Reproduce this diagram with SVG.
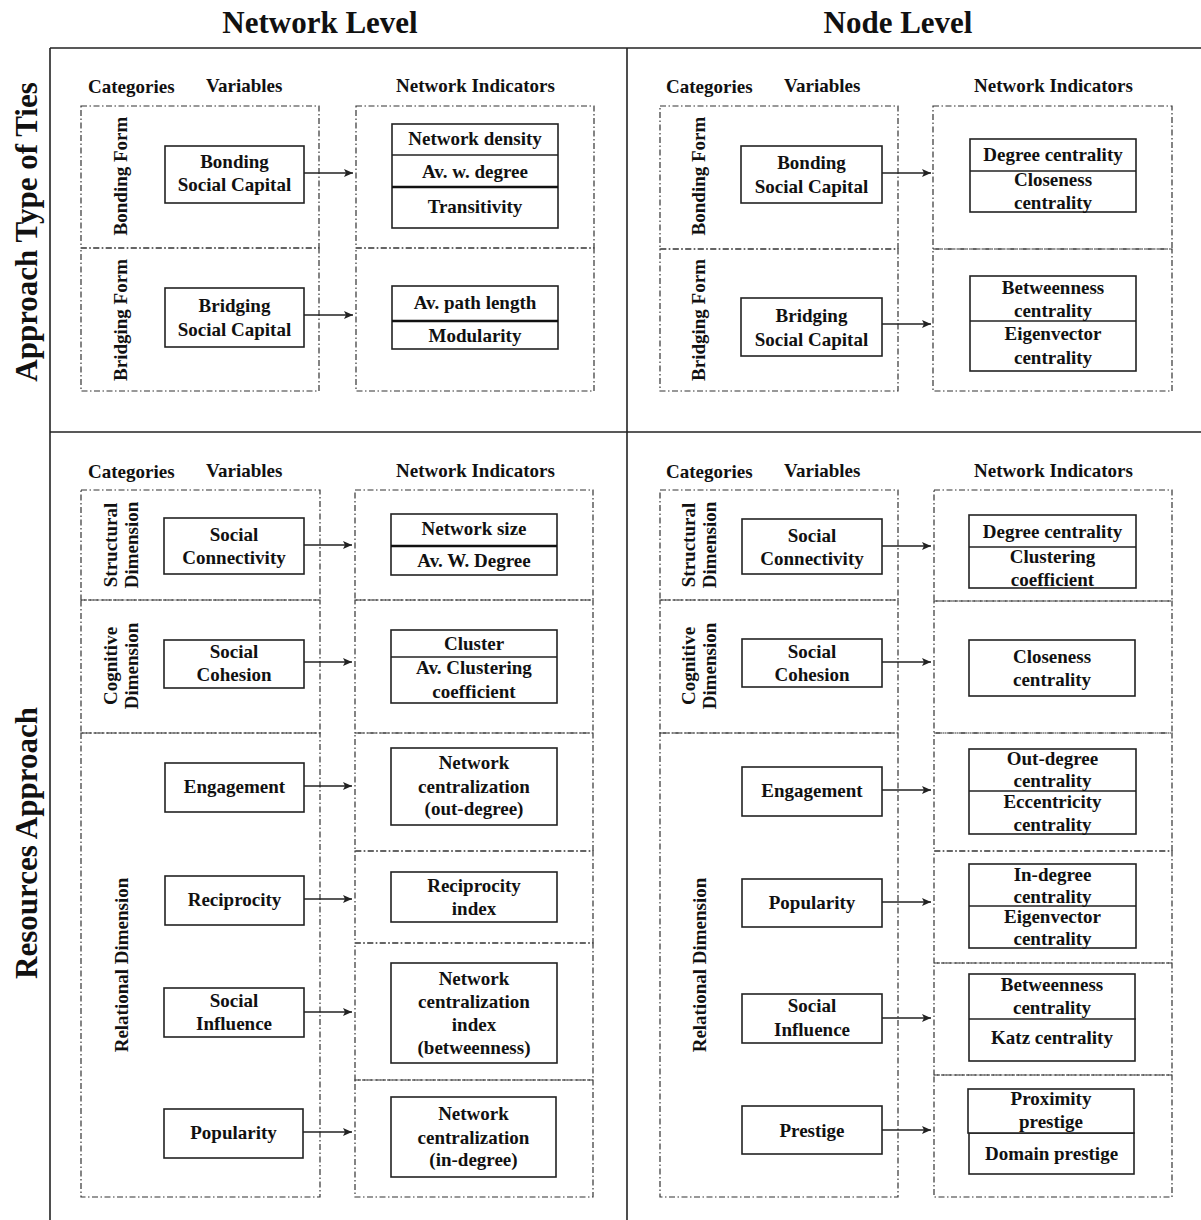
<svg xmlns="http://www.w3.org/2000/svg" width="1201" height="1220" viewBox="0 0 1201 1220">
  <style>
    text { font-family: "Liberation Serif", "Times New Roman", serif; font-weight: bold; fill: #111; }
    .title { font-size: 31px; text-anchor: middle; }
    .hdr { font-size: 19px; }
    .t { font-size: 19px; text-anchor: middle; }
    .frame { stroke: #222; stroke-width: 1.6; fill: none; }
    .dash { stroke: #333; stroke-width: 1.2; fill: none; stroke-dasharray: 6 2.5 1.5 2.5; }
    .box { stroke: #222; stroke-width: 1.6; fill: #fff; }
    .div { stroke: #222; stroke-width: 1.4; }
    .thick { stroke: #111; stroke-width: 2.6; }
    .conn { stroke: #222; stroke-width: 1.3; fill: none; marker-end: url(#arr); }
  </style>
  <defs>
    <marker id="arr" markerUnits="userSpaceOnUse" markerWidth="10" markerHeight="10" refX="9" refY="5" orient="auto">
      <path d="M0,1 L9,5 L0,9 L2,5 Z" fill="#222"/>
    </marker>
  </defs>
  <rect width="1201" height="1220" fill="#fff"/>

  <!-- column and row titles -->
  <text class="title" x="320" y="33">Network Level</text>
  <text class="title" x="898" y="33">Node Level</text>
  <text class="title" transform="translate(37,232) rotate(-90)">Approach Type of Ties</text>
  <text class="title" transform="translate(37,843) rotate(-90)">Resources Approach</text>

  <!-- outer frame -->
  <g id="frame">
    <line class="frame" x1="50" y1="48" x2="1201" y2="48"/>
    <line class="frame" x1="50" y1="48" x2="50" y2="1220"/>
    <line class="frame" x1="627" y1="48" x2="627" y2="1220"/>
    <line class="frame" x1="50" y1="432" x2="1201" y2="432"/>
  </g>

  <!-- column headers -->
  <g id="headers">
    <text class="hdr" x="88" y="93">Categories</text>
    <text class="hdr" x="206" y="92">Variables</text>
    <text class="hdr" x="396" y="92">Network Indicators</text>
    <text class="hdr" x="666" y="93">Categories</text>
    <text class="hdr" x="784" y="92">Variables</text>
    <text class="hdr" x="974" y="92">Network Indicators</text>
    <text class="hdr" x="88" y="478">Categories</text>
    <text class="hdr" x="206" y="477">Variables</text>
    <text class="hdr" x="396" y="477">Network Indicators</text>
    <text class="hdr" x="666" y="478">Categories</text>
    <text class="hdr" x="784" y="477">Variables</text>
    <text class="hdr" x="974" y="477">Network Indicators</text>
  </g>

  <!-- dashed category / indicator panels -->
  <g id="panels">
    <rect class="dash" x="81" y="106" width="238" height="142"/>
    <rect class="dash" x="81" y="248" width="238" height="143"/>
    <rect class="dash" x="356" y="106" width="238" height="142"/>
    <rect class="dash" x="356" y="248" width="238" height="143"/>

    <rect class="dash" x="660" y="106" width="238" height="143"/>
    <rect class="dash" x="660" y="249" width="238" height="142"/>
    <rect class="dash" x="933" y="106" width="239" height="143"/>
    <rect class="dash" x="933" y="249" width="239" height="142"/>

    <rect class="dash" x="81" y="490" width="239" height="110"/>
    <rect class="dash" x="81" y="600" width="239" height="133"/>
    <rect class="dash" x="81" y="733" width="239" height="464"/>
    <rect class="dash" x="355" y="490" width="238" height="110"/>
    <rect class="dash" x="355" y="600" width="238" height="133"/>
    <rect class="dash" x="355" y="733" width="238" height="118"/>
    <rect class="dash" x="355" y="851" width="238" height="92"/>
    <rect class="dash" x="355" y="943" width="238" height="137"/>
    <rect class="dash" x="355" y="1080" width="238" height="117"/>

    <rect class="dash" x="660" y="490" width="238" height="110"/>
    <rect class="dash" x="660" y="600" width="238" height="133"/>
    <rect class="dash" x="660" y="733" width="238" height="464"/>
    <rect class="dash" x="934" y="490" width="238" height="111"/>
    <rect class="dash" x="934" y="601" width="238" height="132"/>
    <rect class="dash" x="934" y="733" width="238" height="118"/>
    <rect class="dash" x="934" y="851" width="238" height="112"/>
    <rect class="dash" x="934" y="963" width="238" height="112"/>
    <rect class="dash" x="934" y="1075" width="238" height="122"/>
  </g>

  <!-- category labels -->
  <g id="categories">
    <text class="t" transform="translate(127,176) rotate(-90)">Bonding Form</text>
    <text class="t" transform="translate(127,320) rotate(-90)">Bridging Form</text>
    <text class="t" transform="translate(705,176) rotate(-90)">Bonding Form</text>
    <text class="t" transform="translate(705,320) rotate(-90)">Bridging Form</text>

    <text class="t" transform="translate(117,545) rotate(-90)">Structural</text>
    <text class="t" transform="translate(138,545) rotate(-90)">Dimension</text>
    <text class="t" transform="translate(117,666) rotate(-90)">Cognitive</text>
    <text class="t" transform="translate(138,666) rotate(-90)">Dimension</text>
    <text class="t" transform="translate(128,965) rotate(-90)">Relational Dimension</text>

    <text class="t" transform="translate(695,545) rotate(-90)">Structural</text>
    <text class="t" transform="translate(716,545) rotate(-90)">Dimension</text>
    <text class="t" transform="translate(695,666) rotate(-90)">Cognitive</text>
    <text class="t" transform="translate(716,666) rotate(-90)">Dimension</text>
    <text class="t" transform="translate(706,965) rotate(-90)">Relational Dimension</text>
  </g>

  <!-- connectors -->
  <g id="connectors">
    <line class="conn" x1="304" y1="173" x2="353" y2="173"/>
    <line class="conn" x1="304" y1="315" x2="353" y2="315"/>
    <line class="conn" x1="882" y1="173" x2="931" y2="173"/>
    <line class="conn" x1="882" y1="324" x2="931" y2="324"/>

    <line class="conn" x1="304" y1="545" x2="352" y2="545"/>
    <line class="conn" x1="304" y1="662" x2="352" y2="662"/>
    <line class="conn" x1="304" y1="786" x2="352" y2="786"/>
    <line class="conn" x1="304" y1="899" x2="352" y2="899"/>
    <line class="conn" x1="304" y1="1012" x2="352" y2="1012"/>
    <line class="conn" x1="303" y1="1132" x2="352" y2="1132"/>

    <line class="conn" x1="882" y1="546" x2="931" y2="546"/>
    <line class="conn" x1="882" y1="662" x2="931" y2="662"/>
    <line class="conn" x1="882" y1="790" x2="931" y2="790"/>
    <line class="conn" x1="882" y1="902" x2="931" y2="902"/>
    <line class="conn" x1="882" y1="1018" x2="931" y2="1018"/>
    <line class="conn" x1="882" y1="1130" x2="931" y2="1130"/>
  </g>

  <!-- Network level, type of ties -->
  <g id="nl-bonding">
    <rect class="box" x="165" y="146" width="139" height="57"/>
    <text class="t" x="234.5" y="168">Bonding</text>
    <text class="t" x="234.5" y="191">Social Capital</text>
  </g>
  <g id="nl-bonding-ind">
    <rect class="box" x="392" y="124" width="166" height="104"/>
    <line class="div" x1="392" y1="155" x2="558" y2="155"/>
    <line class="thick" x1="392" y1="187" x2="558" y2="187"/>
    <text class="t" x="475" y="145">Network density</text>
    <text class="t" x="475" y="178">Av. w. degree</text>
    <text class="t" x="475" y="213">Transitivity</text>
  </g>
  <g id="nl-bridging">
    <rect class="box" x="165" y="288" width="139" height="59"/>
    <text class="t" x="234.5" y="312">Bridging</text>
    <text class="t" x="234.5" y="336">Social Capital</text>
  </g>
  <g id="nl-bridging-ind">
    <rect class="box" x="392" y="286" width="166" height="63"/>
    <line class="thick" x1="392" y1="321" x2="558" y2="321"/>
    <text class="t" x="475" y="309">Av. path length</text>
    <text class="t" x="475" y="342">Modularity</text>
  </g>

  <!-- Node level, type of ties -->
  <g id="nd-bonding">
    <rect class="box" x="741" y="146" width="141" height="57"/>
    <text class="t" x="811.5" y="169">Bonding</text>
    <text class="t" x="811.5" y="193">Social Capital</text>
  </g>
  <g id="nd-bonding-ind">
    <rect class="box" x="970" y="139" width="166" height="73"/>
    <line class="div" x1="970" y1="171" x2="1136" y2="171"/>
    <text class="t" x="1053" y="161">Degree centrality</text>
    <text class="t" x="1053" y="186">Closeness</text>
    <text class="t" x="1053" y="209">centrality</text>
  </g>
  <g id="nd-bridging">
    <rect class="box" x="741" y="298" width="141" height="58"/>
    <text class="t" x="811.5" y="322">Bridging</text>
    <text class="t" x="811.5" y="346">Social Capital</text>
  </g>
  <g id="nd-bridging-ind">
    <rect class="box" x="970" y="276" width="166" height="95"/>
    <line class="div" x1="970" y1="321" x2="1136" y2="321"/>
    <text class="t" x="1053" y="294">Betweenness</text>
    <text class="t" x="1053" y="317">centrality</text>
    <text class="t" x="1053" y="340">Eigenvector</text>
    <text class="t" x="1053" y="364">centrality</text>
  </g>

  <!-- Network level, resources -->
  <g id="nl-connectivity">
    <rect class="box" x="164" y="518" width="140" height="56"/>
    <text class="t" x="234" y="541">Social</text>
    <text class="t" x="234" y="564">Connectivity</text>
  </g>
  <g id="nl-connectivity-ind">
    <rect class="box" x="391" y="514" width="166" height="61"/>
    <line class="thick" x1="391" y1="546" x2="557" y2="546"/>
    <text class="t" x="474" y="535">Network size</text>
    <text class="t" x="474" y="567">Av. W. Degree</text>
  </g>
  <g id="nl-cohesion">
    <rect class="box" x="164" y="640" width="140" height="48"/>
    <text class="t" x="234" y="658">Social</text>
    <text class="t" x="234" y="681">Cohesion</text>
  </g>
  <g id="nl-cohesion-ind">
    <rect class="box" x="391" y="630" width="166" height="73"/>
    <line class="div" x1="391" y1="657" x2="557" y2="657"/>
    <text class="t" x="474" y="650">Cluster</text>
    <text class="t" x="474" y="674">Av. Clustering</text>
    <text class="t" x="474" y="698">coefficient</text>
  </g>
  <g id="nl-engagement">
    <rect class="box" x="165" y="763" width="139" height="49"/>
    <text class="t" x="234.5" y="793">Engagement</text>
  </g>
  <g id="nl-engagement-ind">
    <rect class="box" x="391" y="748" width="166" height="77"/>
    <text class="t" x="474" y="769">Network</text>
    <text class="t" x="474" y="793">centralization</text>
    <text class="t" x="474" y="815">(out-degree)</text>
  </g>
  <g id="nl-reciprocity">
    <rect class="box" x="165" y="876" width="139" height="49"/>
    <text class="t" x="234.5" y="906">Reciprocity</text>
  </g>
  <g id="nl-reciprocity-ind">
    <rect class="box" x="391" y="872" width="166" height="50"/>
    <text class="t" x="474" y="892">Reciprocity</text>
    <text class="t" x="474" y="915">index</text>
  </g>
  <g id="nl-influence">
    <rect class="box" x="164" y="988" width="140" height="49"/>
    <text class="t" x="234" y="1007">Social</text>
    <text class="t" x="234" y="1030">Influence</text>
  </g>
  <g id="nl-influence-ind">
    <rect class="box" x="391" y="963" width="166" height="100"/>
    <text class="t" x="474" y="985">Network</text>
    <text class="t" x="474" y="1008">centralization</text>
    <text class="t" x="474" y="1031">index</text>
    <text class="t" x="474" y="1054">(betweenness)</text>
  </g>
  <g id="nl-popularity">
    <rect class="box" x="164" y="1109" width="139" height="49"/>
    <text class="t" x="233.5" y="1139">Popularity</text>
  </g>
  <g id="nl-popularity-ind">
    <rect class="box" x="391" y="1097" width="165" height="80"/>
    <text class="t" x="473.5" y="1120">Network</text>
    <text class="t" x="473.5" y="1144">centralization</text>
    <text class="t" x="473.5" y="1166">(in-degree)</text>
  </g>

  <!-- Node level, resources -->
  <g id="nd-connectivity">
    <rect class="box" x="742" y="519" width="140" height="55"/>
    <text class="t" x="812" y="542">Social</text>
    <text class="t" x="812" y="565">Connectivity</text>
  </g>
  <g id="nd-connectivity-ind">
    <rect class="box" x="969" y="515" width="167" height="73"/>
    <line class="div" x1="969" y1="547" x2="1136" y2="547"/>
    <text class="t" x="1052.5" y="538">Degree centrality</text>
    <text class="t" x="1052.5" y="563">Clustering</text>
    <text class="t" x="1052.5" y="586">coefficient</text>
  </g>
  <g id="nd-cohesion">
    <rect class="box" x="742" y="639" width="140" height="48"/>
    <text class="t" x="812" y="658">Social</text>
    <text class="t" x="812" y="681">Cohesion</text>
  </g>
  <g id="nd-cohesion-ind">
    <rect class="box" x="969" y="640" width="166" height="56"/>
    <text class="t" x="1052" y="663">Closeness</text>
    <text class="t" x="1052" y="686">centrality</text>
  </g>
  <g id="nd-engagement">
    <rect class="box" x="742" y="767" width="140" height="49"/>
    <text class="t" x="812" y="797">Engagement</text>
  </g>
  <g id="nd-engagement-ind">
    <rect class="box" x="969" y="749" width="167" height="85"/>
    <line class="div" x1="969" y1="791" x2="1136" y2="791"/>
    <text class="t" x="1052.5" y="765">Out-degree</text>
    <text class="t" x="1052.5" y="787">centrality</text>
    <text class="t" x="1052.5" y="808">Eccentricity</text>
    <text class="t" x="1052.5" y="831">centrality</text>
  </g>
  <g id="nd-popularity">
    <rect class="box" x="742" y="879" width="140" height="48"/>
    <text class="t" x="812" y="909">Popularity</text>
  </g>
  <g id="nd-popularity-ind">
    <rect class="box" x="969" y="864" width="167" height="84"/>
    <line class="div" x1="969" y1="906" x2="1136" y2="906"/>
    <text class="t" x="1052.5" y="881">In-degree</text>
    <text class="t" x="1052.5" y="903">centrality</text>
    <text class="t" x="1052.5" y="923">Eigenvector</text>
    <text class="t" x="1052.5" y="945">centrality</text>
  </g>
  <g id="nd-influence">
    <rect class="box" x="742" y="994" width="140" height="49"/>
    <text class="t" x="812" y="1012">Social</text>
    <text class="t" x="812" y="1036">Influence</text>
  </g>
  <g id="nd-influence-ind">
    <rect class="box" x="969" y="974" width="166" height="87"/>
    <line class="div" x1="969" y1="1019" x2="1136" y2="1019"/>
    <text class="t" x="1052" y="991">Betweenness</text>
    <text class="t" x="1052" y="1014">centrality</text>
    <text class="t" x="1052" y="1044">Katz centrality</text>
  </g>
  <g id="nd-prestige">
    <rect class="box" x="742" y="1106" width="140" height="48"/>
    <text class="t" x="812" y="1137">Prestige</text>
  </g>
  <g id="nd-prestige-ind">
    <rect class="box" x="969" y="1133" width="165" height="41"/>
    <rect class="box" x="968" y="1089" width="166" height="44"/>
    <text class="t" x="1051" y="1105">Proximity</text>
    <text class="t" x="1051" y="1128">prestige</text>
    <text class="t" x="1051.5" y="1160">Domain prestige</text>
  </g>
</svg>
